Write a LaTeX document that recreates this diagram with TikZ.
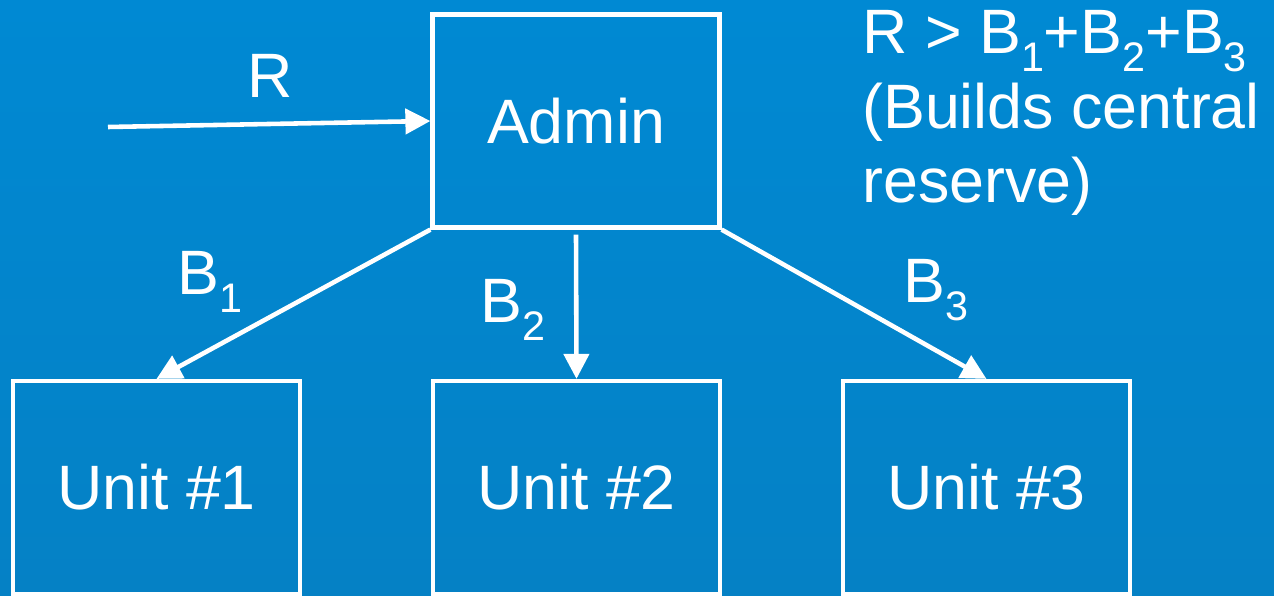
\documentclass[tikz,border=0pt]{standalone}
\usepackage{fontspec}
\setmainfont{Liberation Sans}
\usetikzlibrary{arrows.meta}

\definecolor{slidetop}{HTML}{0089D3}
\definecolor{slidebot}{HTML}{0581C5}
% lowered index, as in B_1
\newcommand{\bidx}[1]{\raisebox{-0.28em}{\fontsize{23.5}{23.5}\selectfont #1}}

\tikzset{
    unitbox/.style={draw=white, line width=2.4pt, minimum width=5.74cm,
        minimum height=4.26cm, inner sep=0pt, text=white,
        font=\fontsize{35.7}{42.5}\selectfont},
    flow/.style={draw=white, line width=2.6pt,
        -{Triangle[length=0.5cm,width=0.5cm]}},
    lbl/.style={text=white, inner sep=0pt, font=\fontsize{35.7}{42.5}\selectfont}
}

\begin{document}
\begin{tikzpicture}
    \useasboundingbox (0,0) rectangle (25.48,11.92);
    \shade[top color=slidetop, bottom color=slidebot] (0,0) rectangle (25.48,11.92);

    % Boxes
    \node[unitbox] (admin) at (11.52,9.50) {Admin};
    \node[unitbox] (unit1) at (3.13,2.17) {Unit \#1};
    \node[unitbox] (unit2) at (11.53,2.17) {Unit \#2};
    \node[unitbox] (unit3) at (19.73,2.17) {Unit \#3};

    % Incoming funds
    \coordinate (rin) at (2.16,9.38);
    \draw[flow] (rin) -- (admin.west);
    \node[lbl, anchor=base west] (rlbl) at (4.94,9.96) {R};

    % Budgets to the units
    \draw[flow] (admin.south west) -- (unit1.north);
    \draw[flow] ([yshift=-0.1cm]admin.south) -- (unit2.north);
    \draw[flow] (admin.south east) -- (unit3.north);
    \node[lbl, anchor=base west] (b1) at (3.54,6.02) {B\bidx{1}};
    \node[lbl, anchor=base west] (b2) at (9.60,5.46) {B\bidx{2}};
    \node[lbl, anchor=base west] (b3) at (18.06,5.86) {B\bidx{3}};

    % Condition
    \node[lbl, anchor=north west, align=left] (cond) at (17.24,11.72)
        {R > B\bidx{1}+B\bidx{2}+B\bidx{3}\\(Builds central\\reserve)};
\end{tikzpicture}
\end{document}
